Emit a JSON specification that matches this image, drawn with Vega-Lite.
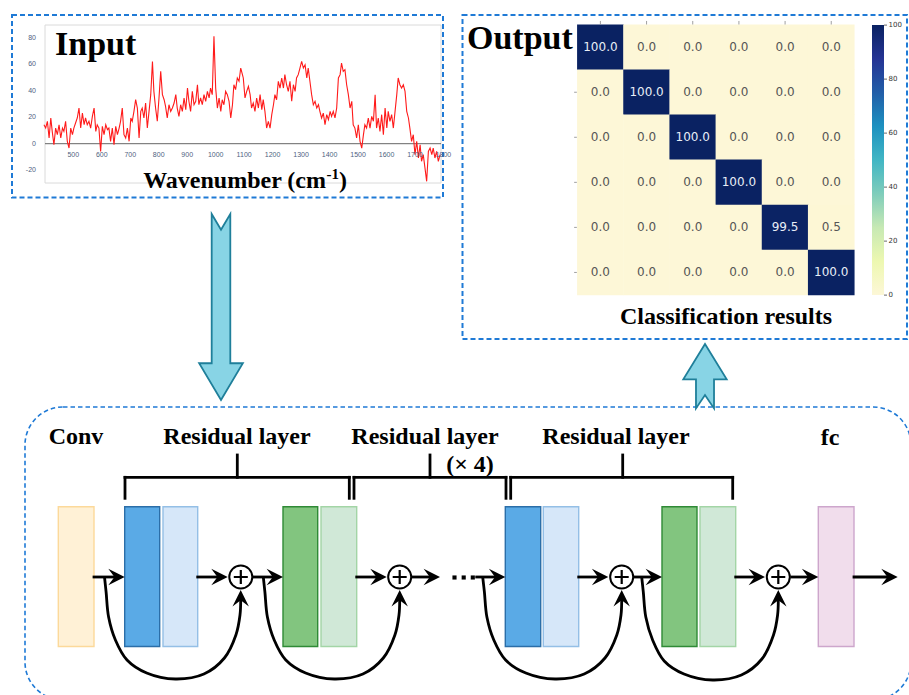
{
"$schema":"https://vega.github.io/schema/vega-lite/v6.json",
"width":909,"height":695,"padding":0,"autosize":{"type":"none"},
"background":"#ffffff",
"config":{"view":{"stroke":null}},
"datasets":{
"panels":[{"x":12,"x2":443,"y":15,"y2":197.5},{"x":462.5,"x2":907,"y":15,"y2":339}],
"netbox":[{"x":25,"x2":911,"y":407,"y2":700}],
"frame":[{"x":45,"x2":441,"y":25,"y2":183}],
"zeroline":[{"x":45,"x2":441,"y":143.7,"y2":143.7}],
"spec":[{"wn":397,"v":14.3},{"wn":403,"v":11.8},{"wn":409,"v":16.9},{"wn":415,"v":4.3},{"wn":421,"v":19.4},{"wn":426,"v":9.3},{"wn":432,"v":-0.8},{"wn":438,"v":11.8},{"wn":444,"v":6.8},{"wn":450,"v":14.3},{"wn":456,"v":4.3},{"wn":462,"v":11.8},{"wn":467,"v":9.3},{"wn":473,"v":16.9},{"wn":479,"v":1.8},{"wn":485,"v":-3.3},{"wn":491,"v":11.8},{"wn":497,"v":6.8},{"wn":502,"v":11.8},{"wn":508,"v":15.6},{"wn":514,"v":19.4},{"wn":520,"v":26.9},{"wn":526,"v":11.8},{"wn":532,"v":23.1},{"wn":538,"v":14.3},{"wn":543,"v":19.4},{"wn":549,"v":14.3},{"wn":555,"v":16.9},{"wn":561,"v":11.8},{"wn":567,"v":20.6},{"wn":573,"v":26.9},{"wn":579,"v":9.3},{"wn":584,"v":14.3},{"wn":590,"v":11.8},{"wn":596,"v":-5.8},{"wn":602,"v":13.1},{"wn":608,"v":6.8},{"wn":614,"v":14.3},{"wn":620,"v":10.6},{"wn":625,"v":11.8},{"wn":631,"v":1.8},{"wn":637,"v":11.8},{"wn":643,"v":-0.8},{"wn":649,"v":13.1},{"wn":655,"v":6.8},{"wn":661,"v":11.8},{"wn":666,"v":16.9},{"wn":672,"v":26.9},{"wn":678,"v":6.8},{"wn":684,"v":4.3},{"wn":690,"v":11.8},{"wn":696,"v":1.8},{"wn":702,"v":19.4},{"wn":707,"v":16.9},{"wn":713,"v":24.4},{"wn":719,"v":33.2},{"wn":725,"v":26.9},{"wn":731,"v":4.3},{"wn":737,"v":24.4},{"wn":742,"v":26.9},{"wn":748,"v":19.4},{"wn":754,"v":30.7},{"wn":760,"v":11.8},{"wn":766,"v":24.4},{"wn":772,"v":37},{"wn":778,"v":62.1},{"wn":783,"v":39.5},{"wn":789,"v":26.9},{"wn":795,"v":16.9},{"wn":801,"v":34.5},{"wn":807,"v":54.6},{"wn":813,"v":37},{"wn":819,"v":33.2},{"wn":824,"v":28.2},{"wn":830,"v":19.4},{"wn":836,"v":29.4},{"wn":842,"v":24.4},{"wn":848,"v":26.9},{"wn":854,"v":30.7},{"wn":860,"v":37},{"wn":865,"v":26.9},{"wn":871,"v":20.6},{"wn":877,"v":29.4},{"wn":883,"v":24.4},{"wn":889,"v":34.5},{"wn":895,"v":25.6},{"wn":901,"v":42},{"wn":906,"v":32},{"wn":912,"v":24.4},{"wn":918,"v":39.5},{"wn":924,"v":29.4},{"wn":930,"v":32},{"wn":936,"v":44.5},{"wn":941,"v":29.4},{"wn":947,"v":34.5},{"wn":953,"v":29.4},{"wn":959,"v":37},{"wn":965,"v":32},{"wn":971,"v":39.5},{"wn":977,"v":34.5},{"wn":982,"v":42},{"wn":988,"v":37},{"wn":994,"v":81},{"wn":1000,"v":42},{"wn":1006,"v":26.9},{"wn":1012,"v":34.5},{"wn":1018,"v":24.4},{"wn":1023,"v":33.2},{"wn":1029,"v":29.4},{"wn":1035,"v":39.5},{"wn":1041,"v":37},{"wn":1047,"v":32},{"wn":1053,"v":19.4},{"wn":1059,"v":29.4},{"wn":1064,"v":44.5},{"wn":1070,"v":40.8},{"wn":1076,"v":49.6},{"wn":1082,"v":47.1},{"wn":1088,"v":57.1},{"wn":1094,"v":52.1},{"wn":1097,"v":49.6},{"wn":1103,"v":34.5},{"wn":1109,"v":39.5},{"wn":1115,"v":43.3},{"wn":1121,"v":37},{"wn":1126,"v":26.9},{"wn":1132,"v":30.7},{"wn":1138,"v":24.4},{"wn":1144,"v":34.5},{"wn":1150,"v":26.9},{"wn":1156,"v":37},{"wn":1162,"v":25.6},{"wn":1167,"v":33.2},{"wn":1173,"v":24.4},{"wn":1179,"v":11.8},{"wn":1185,"v":16.9},{"wn":1191,"v":11.8},{"wn":1197,"v":21.9},{"wn":1203,"v":29.4},{"wn":1208,"v":37},{"wn":1214,"v":33.2},{"wn":1220,"v":47.1},{"wn":1226,"v":42},{"wn":1232,"v":49.6},{"wn":1238,"v":42},{"wn":1243,"v":52.1},{"wn":1249,"v":44.5},{"wn":1255,"v":39.5},{"wn":1261,"v":47.1},{"wn":1267,"v":32},{"wn":1273,"v":44.5},{"wn":1279,"v":39.5},{"wn":1284,"v":49.6},{"wn":1290,"v":52.1},{"wn":1296,"v":57.1},{"wn":1302,"v":62.2},{"wn":1308,"v":57.1},{"wn":1314,"v":59.6},{"wn":1320,"v":49.6},{"wn":1325,"v":57.1},{"wn":1331,"v":47.1},{"wn":1337,"v":37},{"wn":1343,"v":29.4},{"wn":1349,"v":32},{"wn":1355,"v":26.9},{"wn":1361,"v":29.4},{"wn":1366,"v":24.4},{"wn":1372,"v":19.4},{"wn":1378,"v":23.1},{"wn":1384,"v":14.3},{"wn":1390,"v":21.9},{"wn":1396,"v":18.1},{"wn":1402,"v":24.4},{"wn":1407,"v":20.6},{"wn":1413,"v":24.4},{"wn":1419,"v":19.4},{"wn":1425,"v":26.9},{"wn":1431,"v":49.6},{"wn":1437,"v":52.1},{"wn":1442,"v":60.9},{"wn":1448,"v":54.6},{"wn":1454,"v":55.9},{"wn":1460,"v":44.5},{"wn":1466,"v":37},{"wn":1472,"v":26.9},{"wn":1478,"v":32},{"wn":1483,"v":14.3},{"wn":1489,"v":11.8},{"wn":1495,"v":4.3},{"wn":1501,"v":14.3},{"wn":1507,"v":1.8},{"wn":1513,"v":-3.3},{"wn":1519,"v":6.8},{"wn":1524,"v":14.3},{"wn":1530,"v":11.8},{"wn":1536,"v":19.4},{"wn":1542,"v":11.8},{"wn":1548,"v":20.6},{"wn":1554,"v":16.9},{"wn":1560,"v":37},{"wn":1565,"v":11.8},{"wn":1571,"v":19.4},{"wn":1577,"v":9.3},{"wn":1583,"v":21.9},{"wn":1589,"v":6.8},{"wn":1595,"v":26.9},{"wn":1601,"v":11.8},{"wn":1606,"v":24.4},{"wn":1612,"v":16.9},{"wn":1618,"v":21.9},{"wn":1624,"v":11.8},{"wn":1630,"v":24.4},{"wn":1636,"v":37},{"wn":1641,"v":49.6},{"wn":1647,"v":44.5},{"wn":1653,"v":42},{"wn":1659,"v":44.5},{"wn":1665,"v":39.5},{"wn":1671,"v":24.4},{"wn":1677,"v":19.4},{"wn":1682,"v":11.8},{"wn":1688,"v":1.8},{"wn":1694,"v":6.8},{"wn":1700,"v":-8.3},{"wn":1706,"v":1.8},{"wn":1712,"v":-10.8},{"wn":1718,"v":-0.8},{"wn":1723,"v":-13.3},{"wn":1729,"v":-8.3},{"wn":1735,"v":-18.3},{"wn":1741,"v":-28.4},{"wn":1747,"v":-5.8},{"wn":1753,"v":-3.3},{"wn":1759,"v":-8.3},{"wn":1764,"v":-3.3},{"wn":1770,"v":-10.8},{"wn":1776,"v":-5.8},{"wn":1782,"v":-13.3},{"wn":1788,"v":-8.3}],
"xt":[{"wn":500,"yl":-8.5},{"wn":600,"yl":-8.5},{"wn":700,"yl":-8.5},{"wn":800,"yl":-8.5},{"wn":900,"yl":-8.5},{"wn":1000,"yl":-8.5},{"wn":1100,"yl":-8.5},{"wn":1200,"yl":-8.5},{"wn":1300,"yl":-8.5},{"wn":1400,"yl":-8.5},{"wn":1500,"yl":-8.5},{"wn":1600,"yl":-8.5},{"wn":1700,"yl":-8.5},{"wn":1800,"yl":-8.5}],
"yt":[{"v":-20,"xl":369},{"v":0,"xl":369},{"v":20,"xl":369},{"v":40,"xl":369},{"v":60,"xl":369},{"v":80,"xl":369}],
"cm":[{"r":0,"c":0,"v":100},{"r":0,"c":1,"v":0},{"r":0,"c":2,"v":0},{"r":0,"c":3,"v":0},{"r":0,"c":4,"v":0},{"r":0,"c":5,"v":0},
{"r":1,"c":0,"v":0},{"r":1,"c":1,"v":100},{"r":1,"c":2,"v":0},{"r":1,"c":3,"v":0},{"r":1,"c":4,"v":0},{"r":1,"c":5,"v":0},
{"r":2,"c":0,"v":0},{"r":2,"c":1,"v":0},{"r":2,"c":2,"v":100},{"r":2,"c":3,"v":0},{"r":2,"c":4,"v":0},{"r":2,"c":5,"v":0},
{"r":3,"c":0,"v":0},{"r":3,"c":1,"v":0},{"r":3,"c":2,"v":0},{"r":3,"c":3,"v":100},{"r":3,"c":4,"v":0},{"r":3,"c":5,"v":0},
{"r":4,"c":0,"v":0},{"r":4,"c":1,"v":0},{"r":4,"c":2,"v":0},{"r":4,"c":3,"v":0},{"r":4,"c":4,"v":99.5},{"r":4,"c":5,"v":0.5},
{"r":5,"c":0,"v":0},{"r":5,"c":1,"v":0},{"r":5,"c":2,"v":0},{"r":5,"c":3,"v":0},{"r":5,"c":4,"v":0},{"r":5,"c":5,"v":100}],
"topticks":[{"c":0,"a":-0.582,"b":-0.504},{"c":1,"a":-0.582,"b":-0.504},{"c":2,"a":-0.582,"b":-0.504},{"c":3,"a":-0.582,"b":-0.504},{"c":4,"a":-0.582,"b":-0.504},{"c":5,"a":-0.582,"b":-0.504}],
"leftticks":[{"r":1,"a":-0.569,"b":-0.51},{"r":2,"a":-0.569,"b":-0.51},{"r":3,"a":-0.569,"b":-0.51},{"r":4,"a":-0.569,"b":-0.51},{"r":5,"a":-0.569,"b":-0.51}],
"cbarRect":[{"x":872,"x2":884,"a":0,"b":100}],
"cbar":[{"v":0,"x":884,"x2":887,"xl":888.5},{"v":20,"x":884,"x2":887,"xl":888.5},{"v":40,"x":884,"x2":887,"xl":888.5},{"v":60,"x":884,"x2":887,"xl":888.5},{"v":80,"x":884,"x2":887,"xl":888.5},{"v":100,"x":884,"x2":887,"xl":888.5}],
"bigdown":[{"x":221,"y":307}],
"bigup":[{"x":705,"y":376.2}],
"blocks":[{"kind":"conv","x":58.3,"x2":94,"y":506.7,"y2":646.5},{"kind":"blueA","x":124.7,"x2":159.7,"y":506.7,"y2":646.5},{"kind":"blueB","x":163,"x2":197.7,"y":506.7,"y2":646.5},{"kind":"greenA","x":283,"x2":317.7,"y":506.7,"y2":646.5},{"kind":"greenB","x":321,"x2":356.7,"y":506.7,"y2":646.5},{"kind":"blueA","x":505.3,"x2":540.7,"y":506.7,"y2":646.5},{"kind":"blueB","x":543.3,"x2":578.7,"y":506.7,"y2":646.5},{"kind":"greenA","x":662,"x2":697,"y":506.7,"y2":646.5},{"kind":"greenB","x":700,"x2":735.7,"y":506.7,"y2":646.5},{"kind":"fc","x":818.3,"x2":854,"y":506.7,"y2":646.5}],
"segs":[{"x":94,"x2":117,"y":577,"y2":577},{"x":197.7,"x2":220,"y":577,"y2":577},{"x":253.8,"x2":276,"y":577,"y2":577},{"x":356.7,"x2":379,"y":577,"y2":577},{"x":412.7,"x2":433,"y":577,"y2":577},{"x":476.7,"x2":498,"y":577,"y2":577},{"x":578.7,"x2":601,"y":577,"y2":577},{"x":635,"x2":655,"y":577,"y2":577},{"x":735.7,"x2":758,"y":577,"y2":577},{"x":791.7,"x2":811,"y":577,"y2":577},{"x":854,"x2":890,"y":577,"y2":577},
{"x":125,"y":477.3,"x2":349.3,"y2":477.3},{"x":125,"y":477.3,"x2":125,"y2":498.3},{"x":349.3,"y":477.3,"x2":349.3,"y2":498.3},{"x":237.3,"y":455,"x2":237.3,"y2":477.3},
{"x":354,"y":477.3,"x2":506,"y2":477.3},{"x":354,"y":477.3,"x2":354,"y2":498.3},{"x":506,"y":477.3,"x2":506,"y2":498.3},{"x":430,"y":455,"x2":430,"y2":477.3},
{"x":510.7,"y":477.3,"x2":732.7,"y2":477.3},{"x":510.7,"y":477.3,"x2":510.7,"y2":498.3},{"x":732.7,"y":477.3,"x2":732.7,"y2":498.3},{"x":622.7,"y":455,"x2":622.7,"y2":477.3}],
"curves":[
{"id":1,"i":0,"x":104.5,"y":577},{"id":1,"i":1,"x":106.1,"y":592},{"id":1,"i":2,"x":108.6,"y":617},{"id":1,"i":3,"x":115.4,"y":640},{"id":1,"i":4,"x":127.0,"y":660},{"id":1,"i":5,"x":146.7,"y":673},{"id":1,"i":6,"x":175.3,"y":679},{"id":1,"i":7,"x":203.9,"y":674},{"id":1,"i":8,"x":224.4,"y":658},{"id":1,"i":9,"x":235.9,"y":635},{"id":1,"i":10,"x":240.0,"y":615},{"id":1,"i":11,"x":240.7,"y":600},
{"id":2,"i":0,"x":263.3,"y":577},{"id":2,"i":1,"x":264.9,"y":592},{"id":2,"i":2,"x":267.4,"y":617},{"id":2,"i":3,"x":274.2,"y":640},{"id":2,"i":4,"x":285.8,"y":660},{"id":2,"i":5,"x":305.6,"y":673},{"id":2,"i":6,"x":334.2,"y":679},{"id":2,"i":7,"x":362.9,"y":674},{"id":2,"i":8,"x":383.3,"y":658},{"id":2,"i":9,"x":394.9,"y":635},{"id":2,"i":10,"x":399.0,"y":615},{"id":2,"i":11,"x":399.7,"y":600},
{"id":3,"i":0,"x":482.7,"y":577},{"id":3,"i":1,"x":484.4,"y":592},{"id":3,"i":2,"x":486.9,"y":617},{"id":3,"i":3,"x":493.8,"y":640},{"id":3,"i":4,"x":505.6,"y":660},{"id":3,"i":5,"x":525.8,"y":673},{"id":3,"i":6,"x":555.0,"y":679},{"id":3,"i":7,"x":584.2,"y":674},{"id":3,"i":8,"x":605.0,"y":658},{"id":3,"i":9,"x":616.8,"y":635},{"id":3,"i":10,"x":621.0,"y":615},{"id":3,"i":11,"x":621.7,"y":600},
{"id":4,"i":0,"x":641.7,"y":577},{"id":4,"i":1,"x":643.3,"y":592},{"id":4,"i":2,"x":645.8,"y":617},{"id":4,"i":3,"x":652.6,"y":640},{"id":4,"i":4,"x":664.2,"y":661},{"id":4,"i":5,"x":684.0,"y":674},{"id":4,"i":6,"x":712.7,"y":680},{"id":4,"i":7,"x":741.4,"y":675},{"id":4,"i":8,"x":761.9,"y":659},{"id":4,"i":9,"x":773.5,"y":635},{"id":4,"i":10,"x":777.6,"y":615},{"id":4,"i":11,"x":778.3,"y":600}],
"headsR":[{"x":124.7,"y":577},{"x":227.7,"y":577},{"x":283,"y":577},{"x":386.7,"y":577},{"x":440,"y":577},{"x":505.3,"y":577},{"x":608.3,"y":577},{"x":662,"y":577},{"x":765,"y":577},{"x":818.3,"y":577},{"x":897.7,"y":577}],
"headsU":[{"x":240.7,"y":590},{"x":399.7,"y":590},{"x":621.7,"y":590},{"x":778.3,"y":590}],
"circles":[{"x":240.8,"y":577},{"x":399.7,"y":577},{"x":621.7,"y":577},{"x":778.3,"y":577}],
"dots":[{"x":454.5,"y":577.5},{"x":463.7,"y":577.5},{"x":472.8,"y":577.5}],
"titles":[{"t":"Input","x":55,"y":55},{"t":"Output","x":467,"y":49}],
"labels":[{"t":"Classification results","x":726,"y":324},{"t":"Conv","x":76,"y":444},{"t":"Residual layer","x":237,"y":444},{"t":"Residual layer","x":425,"y":444},{"t":"Residual layer","x":616,"y":444},{"t":"(× 4)","x":470,"y":472},{"t":"fc","x":830,"y":445}],
"wav1":[{"t":"Wavenumber (cm","x":326,"y":188}],
"wav2":[{"t":"-1","x":326.5,"y":179}],
"wav3":[{"t":")","x":339,"y":188}]
},
"layer":[
{"data":{"name":"panels"},"mark":{"type":"rect","filled":false,"stroke":"#1f7ad6","strokeWidth":2,"strokeDash":[5,3]},
"encoding":{"x":{"field":"x","type":"quantitative","scale":{"domain":[0,909],"nice":false,"zero":false},"axis":null},"y":{"field":"y","type":"quantitative","scale":{"domain":[0,695],"reverse":true,"nice":false,"zero":false},"axis":null},"x2":{"field":"x2"},"y2":{"field":"y2"}}},
{"data":{"name":"netbox"},"mark":{"type":"rect","filled":false,"stroke":"#1f7ad6","strokeWidth":1.6,"strokeDash":[4.5,3],"cornerRadius":38},
"encoding":{"x":{"field":"x","type":"quantitative","scale":{"domain":[0,909],"nice":false,"zero":false},"axis":null},"y":{"field":"y","type":"quantitative","scale":{"domain":[0,695],"reverse":true,"nice":false,"zero":false},"axis":null},"x2":{"field":"x2"},"y2":{"field":"y2"}}},
{"data":{"name":"frame"},"mark":{"type":"rect","fill":"#ffffff","stroke":"#dadada","strokeWidth":1},
"encoding":{"x":{"field":"x","type":"quantitative","scale":{"domain":[0,909],"nice":false,"zero":false},"axis":null},"y":{"field":"y","type":"quantitative","scale":{"domain":[0,695],"reverse":true,"nice":false,"zero":false},"axis":null},"x2":{"field":"x2"},"y2":{"field":"y2"}}},
{"data":{"name":"zeroline"},"mark":{"type":"rule","stroke":"#666666","strokeWidth":1},
"encoding":{"x":{"field":"x","type":"quantitative","scale":{"domain":[0,909],"nice":false,"zero":false},"axis":null},"y":{"field":"y","type":"quantitative","scale":{"domain":[0,695],"reverse":true,"nice":false,"zero":false},"axis":null},"x2":{"field":"x2"},"y2":{"field":"y2"}}},
{"data":{"name":"spec"},"mark":{"type":"line","color":"#ff1a1a","strokeWidth":1.1},
"encoding":{"x":{"field":"wn","type":"quantitative","scale":{"domain":[242.6,3434.9],"nice":false,"zero":false},"axis":null},
"y":{"field":"v","type":"quantitative","scale":{"domain":[-416.1,108.45],"nice":false,"zero":false},"axis":null}}},
{"data":{"name":"xt"},"mark":{"type":"text","font":"Liberation Sans","fontSize":7,"color":"#4f5f7f","align":"center","baseline":"middle"},
"encoding":{"x":{"field":"wn","type":"quantitative","scale":{"domain":[242.6,3434.9],"nice":false,"zero":false},"axis":null},
"y":{"field":"yl","type":"quantitative","scale":{"domain":[-416.1,108.45],"nice":false,"zero":false},"axis":null},"text":{"field":"wn","type":"nominal"}}},
{"data":{"name":"yt"},"mark":{"type":"text","font":"Liberation Sans","fontSize":7,"color":"#4f5f7f","align":"right","baseline":"middle"},
"encoding":{"x":{"field":"xl","type":"quantitative","scale":{"domain":[242.6,3434.9],"nice":false,"zero":false},"axis":null},
"y":{"field":"v","type":"quantitative","scale":{"domain":[-416.1,108.45],"nice":false,"zero":false},"axis":null},"text":{"field":"v","type":"nominal"}}},
{"data":{"name":"cm"},"mark":{"type":"point","shape":"M-1.01,-0.986L1.01,-0.986L1.01,0.986L-1.01,0.986Z","size":2131.7,"filled":true,"opacity":1,"strokeWidth":0},
"encoding":{"x":{"field":"c","type":"quantitative","scale":{"domain":[-13.004,6.684],"nice":false,"zero":false},"axis":null},
"y":{"field":"r","type":"quantitative","scale":{"domain":[-1.0477,14.38],"reverse":true,"nice":false,"zero":false},"axis":null},
"color":{"field":"v","type":"quantitative","scale":{"domain":[0,12.5,25,37.5,50,62.5,75,87.5,100],"range":["#fdf7d7","#edf8b1","#c7e9b4","#7fcdbb","#41b6c4","#1d91c0","#225ea8","#253494","#0a2262"]},"legend":null}}},
{"data":{"name":"cm"},"mark":{"type":"text","font":"DejaVu Sans","fontSize":12,"align":"center","baseline":"middle"},
"encoding":{"x":{"field":"c","type":"quantitative","scale":{"domain":[-13.004,6.684],"nice":false,"zero":false},"axis":null},
"y":{"field":"r","type":"quantitative","scale":{"domain":[-1.0477,14.38],"reverse":true,"nice":false,"zero":false},"axis":null},
"text":{"field":"v","type":"quantitative","format":".1f"},
"color":{"condition":{"test":"datum.v > 50","value":"#e8eef6"},"value":"#555555"}}},
{"data":{"name":"topticks"},"mark":{"type":"rule","stroke":"#888888","strokeWidth":0.8},
"encoding":{"x":{"field":"c","type":"quantitative","scale":{"domain":[-13.004,6.684],"nice":false,"zero":false},"axis":null},
"y":{"field":"a","type":"quantitative","scale":{"domain":[-1.0477,14.38],"reverse":true,"nice":false,"zero":false},"axis":null},"y2":{"field":"b"}}},
{"data":{"name":"leftticks"},"mark":{"type":"rule","stroke":"#888888","strokeWidth":0.8},
"encoding":{"x":{"field":"a","type":"quantitative","scale":{"domain":[-13.004,6.684],"nice":false,"zero":false},"axis":null},"x2":{"field":"b"},
"y":{"field":"r","type":"quantitative","scale":{"domain":[-1.0477,14.38],"reverse":true,"nice":false,"zero":false},"axis":null}}},
{"data":{"name":"cbarRect"},"mark":{"type":"rect","color":{"gradient":"linear","x1":0,"y1":1,"x2":0,"y2":0,"stops":[{"offset":0,"color":"#fdf7d7"},{"offset":0.125,"color":"#edf8b1"},{"offset":0.25,"color":"#c7e9b4"},{"offset":0.375,"color":"#7fcdbb"},{"offset":0.5,"color":"#41b6c4"},{"offset":0.625,"color":"#1d91c0"},{"offset":0.75,"color":"#225ea8"},{"offset":0.875,"color":"#253494"},{"offset":1,"color":"#0a2262"}]}},
"encoding":{"x":{"field":"x","type":"quantitative","scale":{"domain":[0,909],"nice":false,"zero":false},"axis":null},"x2":{"field":"x2"},
"y":{"field":"a","type":"quantitative","scale":{"domain":[-148.1,109.3],"nice":false,"zero":false},"axis":null},"y2":{"field":"b"}}},
{"data":{"name":"cbar"},"mark":{"type":"rule","stroke":"#444444","strokeWidth":0.8},
"encoding":{"x":{"field":"x","type":"quantitative","scale":{"domain":[0,909],"nice":false,"zero":false},"axis":null},"x2":{"field":"x2"},
"y":{"field":"v","type":"quantitative","scale":{"domain":[-148.1,109.3],"nice":false,"zero":false},"axis":null}}},
{"data":{"name":"cbar"},"mark":{"type":"text","font":"DejaVu Sans","fontSize":7,"color":"#333333","align":"left","baseline":"middle"},
"encoding":{"x":{"field":"xl","type":"quantitative","scale":{"domain":[0,909],"nice":false,"zero":false},"axis":null},
"y":{"field":"v","type":"quantitative","scale":{"domain":[-148.1,109.3],"nice":false,"zero":false},"axis":null},"text":{"field":"v","type":"nominal"}}},
{"data":{"name":"bigdown"},"mark":{"type":"point","shape":"M-0.1,-1L0,-0.83L0.1,-1L0.1,0.605L0.235,0.605L0,1L-0.235,0.605L-0.1,0.605Z","size":34596,"filled":true,"opacity":1,"fill":"#88d4e5","stroke":"#1f7f9a","strokeWidth":1.8},
"encoding":{"x":{"field":"x","type":"quantitative","scale":{"domain":[0,909],"nice":false,"zero":false},"axis":null},"y":{"field":"y","type":"quantitative","scale":{"domain":[0,695],"reverse":true,"nice":false,"zero":false},"axis":null}}},
{"data":{"name":"bigup"},"mark":{"type":"point","shape":"M0,-1L0.674,0.096L0.28,0.096L0.28,1L0,0.584L-0.28,1L-0.28,0.096L-0.674,0.096Z","size":4147,"filled":true,"opacity":1,"fill":"#88d4e5","stroke":"#1f7f9a","strokeWidth":1.8},
"encoding":{"x":{"field":"x","type":"quantitative","scale":{"domain":[0,909],"nice":false,"zero":false},"axis":null},"y":{"field":"y","type":"quantitative","scale":{"domain":[0,695],"reverse":true,"nice":false,"zero":false},"axis":null}}},
{"data":{"name":"blocks"},"mark":{"type":"rect","strokeWidth":1.4},
"encoding":{"x":{"field":"x","type":"quantitative","scale":{"domain":[0,909],"nice":false,"zero":false},"axis":null},"y":{"field":"y","type":"quantitative","scale":{"domain":[0,695],"reverse":true,"nice":false,"zero":false},"axis":null},"x2":{"field":"x2"},"y2":{"field":"y2"},
"fill":{"field":"kind","type":"nominal","scale":{"domain":["conv","blueA","blueB","greenA","greenB","fc"],"range":["#fff1d6","#5aaae6","#d6e7f9","#82c57f","#d0e8d7","#f1ddec"]},"legend":null},
"stroke":{"field":"kind","type":"nominal","scale":{"domain":["conv","blueA","blueB","greenA","greenB","fc"],"range":["#fcd99a","#2b6ea8","#94bfe6","#2f8a36","#a3d5a6","#cda6cc"]},"legend":null}}},
{"data":{"name":"segs"},"mark":{"type":"rule","stroke":"#000000","strokeWidth":2.8,"strokeCap":"square"},
"encoding":{"x":{"field":"x","type":"quantitative","scale":{"domain":[0,909],"nice":false,"zero":false},"axis":null},"y":{"field":"y","type":"quantitative","scale":{"domain":[0,695],"reverse":true,"nice":false,"zero":false},"axis":null},"x2":{"field":"x2"},"y2":{"field":"y2"}}},
{"data":{"name":"curves"},"mark":{"type":"line","stroke":"#000000","strokeWidth":2.8,"interpolate":"catmull-rom"},
"encoding":{"x":{"field":"x","type":"quantitative","scale":{"domain":[0,909],"nice":false,"zero":false},"axis":null},"y":{"field":"y","type":"quantitative","scale":{"domain":[0,695],"reverse":true,"nice":false,"zero":false},"axis":null},"detail":{"field":"id","type":"nominal"},"order":{"field":"i","type":"quantitative"}}},
{"data":{"name":"headsR"},"mark":{"type":"point","shape":"M0,0L-2,-1L-1.25,0L-2,1Z","filled":true,"opacity":1,"color":"#000000","size":269,"strokeWidth":0},
"encoding":{"x":{"field":"x","type":"quantitative","scale":{"domain":[0,909],"nice":false,"zero":false},"axis":null},"y":{"field":"y","type":"quantitative","scale":{"domain":[0,695],"reverse":true,"nice":false,"zero":false},"axis":null}}},
{"data":{"name":"headsU"},"mark":{"type":"point","shape":"M0,0L-1,2L0,1.25L1,2Z","filled":true,"opacity":1,"color":"#000000","size":269,"strokeWidth":0},
"encoding":{"x":{"field":"x","type":"quantitative","scale":{"domain":[0,909],"nice":false,"zero":false},"axis":null},"y":{"field":"y","type":"quantitative","scale":{"domain":[0,695],"reverse":true,"nice":false,"zero":false},"axis":null}}},
{"data":{"name":"circles"},"mark":{"type":"point","shape":"circle","size":531,"filled":true,"opacity":1,"fill":"#ffffff","stroke":"#000000","strokeWidth":2},
"encoding":{"x":{"field":"x","type":"quantitative","scale":{"domain":[0,909],"nice":false,"zero":false},"axis":null},"y":{"field":"y","type":"quantitative","scale":{"domain":[0,695],"reverse":true,"nice":false,"zero":false},"axis":null}}},
{"data":{"name":"circles"},"mark":{"type":"point","shape":"M-1,0L1,0M0,-1L0,1","size":196,"filled":false,"opacity":1,"stroke":"#000000","strokeWidth":2.2},
"encoding":{"x":{"field":"x","type":"quantitative","scale":{"domain":[0,909],"nice":false,"zero":false},"axis":null},"y":{"field":"y","type":"quantitative","scale":{"domain":[0,695],"reverse":true,"nice":false,"zero":false},"axis":null}}},
{"data":{"name":"dots"},"mark":{"type":"point","shape":"square","size":17,"filled":true,"opacity":1,"color":"#000000","strokeWidth":0},
"encoding":{"x":{"field":"x","type":"quantitative","scale":{"domain":[0,909],"nice":false,"zero":false},"axis":null},"y":{"field":"y","type":"quantitative","scale":{"domain":[0,695],"reverse":true,"nice":false,"zero":false},"axis":null}}},
{"data":{"name":"titles"},"mark":{"type":"text","font":"Liberation Serif","fontWeight":"bold","fontSize":34,"align":"left","baseline":"alphabetic","color":"#000000"},
"encoding":{"x":{"field":"x","type":"quantitative","scale":{"domain":[0,909],"nice":false,"zero":false},"axis":null},"y":{"field":"y","type":"quantitative","scale":{"domain":[0,695],"reverse":true,"nice":false,"zero":false},"axis":null},"text":{"field":"t","type":"nominal"}}},
{"data":{"name":"labels"},"mark":{"type":"text","font":"Liberation Serif","fontWeight":"bold","fontSize":24,"align":"center","baseline":"alphabetic","color":"#000000"},
"encoding":{"x":{"field":"x","type":"quantitative","scale":{"domain":[0,909],"nice":false,"zero":false},"axis":null},"y":{"field":"y","type":"quantitative","scale":{"domain":[0,695],"reverse":true,"nice":false,"zero":false},"axis":null},"text":{"field":"t","type":"nominal"}}},
{"data":{"name":"wav1"},"mark":{"type":"text","font":"Liberation Serif","fontWeight":"bold","fontSize":24,"align":"right","baseline":"alphabetic","color":"#000000"},
"encoding":{"x":{"field":"x","type":"quantitative","scale":{"domain":[0,909],"nice":false,"zero":false},"axis":null},"y":{"field":"y","type":"quantitative","scale":{"domain":[0,695],"reverse":true,"nice":false,"zero":false},"axis":null},"text":{"field":"t","type":"nominal"}}},
{"data":{"name":"wav2"},"mark":{"type":"text","font":"Liberation Serif","fontWeight":"bold","fontSize":15,"align":"left","baseline":"alphabetic","color":"#000000"},
"encoding":{"x":{"field":"x","type":"quantitative","scale":{"domain":[0,909],"nice":false,"zero":false},"axis":null},"y":{"field":"y","type":"quantitative","scale":{"domain":[0,695],"reverse":true,"nice":false,"zero":false},"axis":null},"text":{"field":"t","type":"nominal"}}},
{"data":{"name":"wav3"},"mark":{"type":"text","font":"Liberation Serif","fontWeight":"bold","fontSize":24,"align":"left","baseline":"alphabetic","color":"#000000"},
"encoding":{"x":{"field":"x","type":"quantitative","scale":{"domain":[0,909],"nice":false,"zero":false},"axis":null},"y":{"field":"y","type":"quantitative","scale":{"domain":[0,695],"reverse":true,"nice":false,"zero":false},"axis":null},"text":{"field":"t","type":"nominal"}}}
],
"resolve":{"scale":{"x":"independent","y":"independent","color":"independent","fill":"independent","stroke":"independent"}}
}
